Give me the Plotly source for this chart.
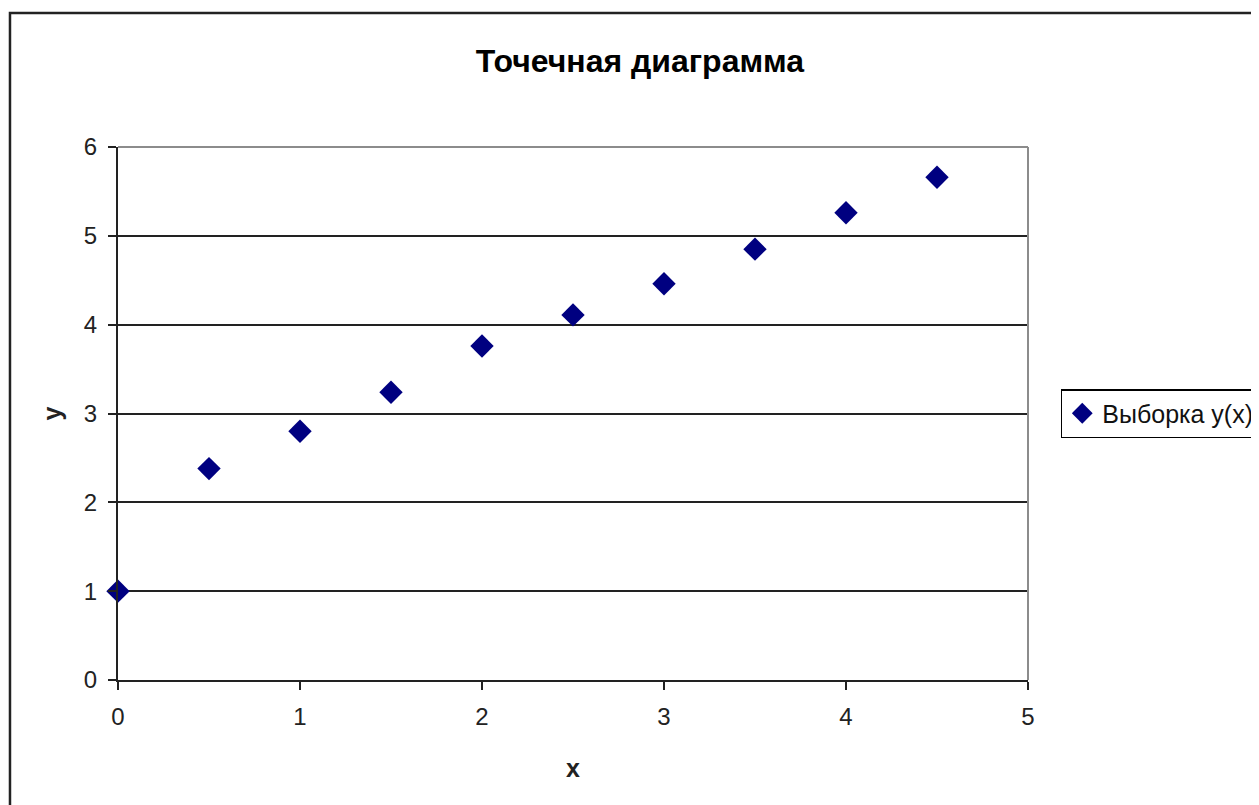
import plotly.graph_objects as go

x_values = [0, 0.5, 1, 1.5, 2, 2.5, 3, 3.5, 4, 4.5]
y_values = [1.0, 2.38, 2.80, 3.24, 3.76, 4.11, 4.46, 4.85, 5.26, 5.66]
series_name = "Выборка y(x)"
title_text = "Точечная диаграмма"

FONT = "Liberation Sans, Arial, sans-serif"

fig = go.Figure()
fig.add_trace(go.Scatter(
    x=x_values, y=y_values, mode="markers", name=series_name,
    marker=dict(symbol="diamond", size=18, color="#000080",
                line=dict(width=0)),
    cliponaxis=False,
))

fig.update_layout(
    width=1259, height=805,
    margin=dict(l=110, r=239, t=139, b=133, autoexpand=False),
    paper_bgcolor="white", plot_bgcolor="white",
    font=dict(family=FONT, size=24, color="#111"),
    title=dict(text="<b>" + title_text + "</b>", x=0.502, xanchor="center",
               y=0.935, yanchor="middle",
               font=dict(family=FONT, size=32, color="#000")),
    showlegend=True,
    legend=dict(x=1.036, xanchor="left", y=0.5, yanchor="middle",
                bordercolor="#000", borderwidth=1.5, bgcolor="white",
                font=dict(family=FONT, size=25, color="#111"),
                itemwidth=30),
    xaxis=dict(range=[0, 5], tickvals=[0, 1, 2, 3, 4, 5],
               showgrid=False, zeroline=False, showline=True,
               linecolor="#222", linewidth=2, ticks="outside", ticklen=8,
               tickcolor="#222", tickwidth=2, ticklabelstandoff=6,
               tickfont=dict(family=FONT, size=24, color="#222"),
               title=dict(text="<b>x</b>", standoff=31,
                          font=dict(family=FONT, size=25, color="#222"))),
    yaxis=dict(range=[0, 6], tickvals=[0, 1, 2, 3, 4, 5, 6],
               showgrid=True, gridcolor="#222", gridwidth=2,
               zeroline=False, showline=True,
               linecolor="#222", linewidth=2, ticks="outside", ticklen=8,
               tickcolor="#222", tickwidth=2, ticklabelstandoff=6,
               tickfont=dict(family=FONT, size=24, color="#222"),
               title=dict(text="<b>y</b>", standoff=15,
                          font=dict(family=FONT, size=25, color="#222"))),
    shapes=[
        dict(type="line", xref="paper", yref="paper", x0=0, x1=1, y0=1, y1=1,
             line=dict(color="#8c8c8c", width=2), layer="above"),
        dict(type="line", xref="paper", yref="paper", x0=1, x1=1, y0=0, y1=1,
             line=dict(color="#8c8c8c", width=2), layer="above"),
        dict(type="rect", xref="paper", yref="paper",
             x0=-0.1187, x1=1.4, y0=-0.4, y1=1.2514,
             line=dict(color="#222", width=2.5), layer="below"),
    ],
)

fig.write_html("out.html")
